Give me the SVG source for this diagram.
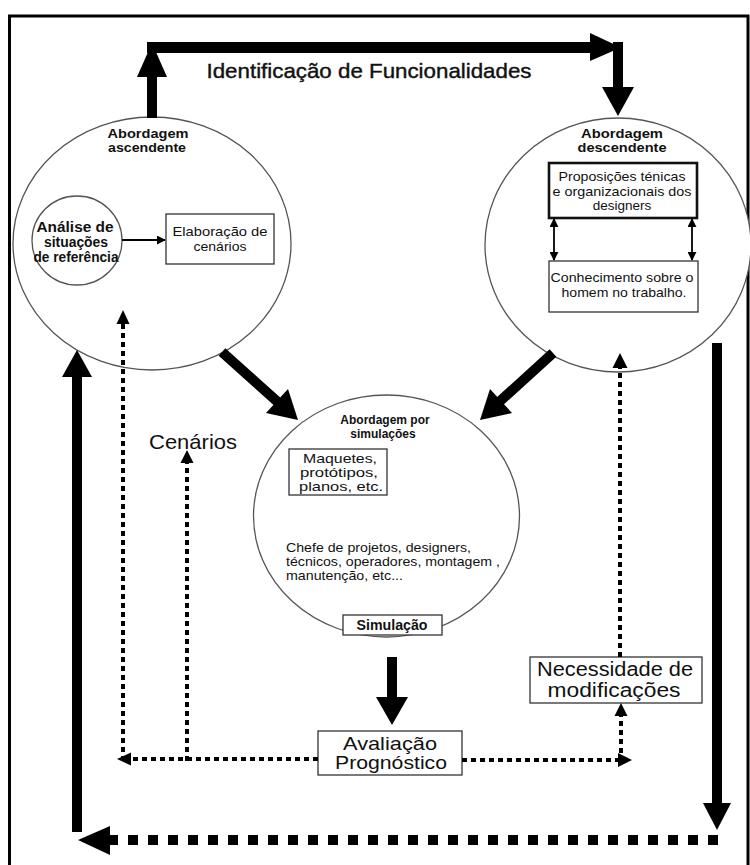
<svg xmlns="http://www.w3.org/2000/svg" width="750" height="865" viewBox="0 0 750 865">
  <style>
    .bg { fill: #ffffff; }
    .frame { fill: none; stroke: #000; stroke-width: 3; }
    .circ { fill: #fff; stroke: #555; stroke-width: 1.3; }
    .box { fill: #fff; stroke: #333; stroke-width: 1.3; }
    .boxb { fill: #fff; stroke: #111; stroke-width: 2.6; }
    .t { font-family: "Liberation Sans", Arial, sans-serif; fill: #111; text-anchor: middle; }
    .tl { font-family: "Liberation Sans", Arial, sans-serif; fill: #111; text-anchor: start; }
    .b { font-weight: bold; }
    .thick { fill: #000; }
    .dot { fill: none; stroke: #000; stroke-width: 4; stroke-dasharray: 5 4; }
    .dash { fill: none; stroke: #000; stroke-width: 10; stroke-dasharray: 10 10; }
    .thin { fill: none; stroke: #000; stroke-width: 1.8; }
  </style>
  <defs>
    <marker id="ah" viewBox="0 0 10 10" refX="9" refY="5" markerWidth="5" markerHeight="5" orient="auto-start-reverse">
      <path d="M0,0 L10,5 L0,10 Z" fill="#000"/>
    </marker>
  </defs>

  <rect class="bg" x="0" y="0" width="750" height="865"/>
  <rect class="frame" x="9.5" y="16" width="738.5" height="860"/>

  <!-- circles and boxes -->
  <g id="ascendente">
    <ellipse class="circ" cx="152" cy="243.5" rx="139" ry="126.5"/>
    <text class="t b" x="148" y="138" font-size="13" textLength="81" lengthAdjust="spacingAndGlyphs">Abordagem</text>
    <text class="t b" x="147" y="152" font-size="13" textLength="78" lengthAdjust="spacingAndGlyphs">ascendente</text>
  </g>
  <g id="analise">
    <ellipse class="circ" cx="77" cy="240.5" rx="45" ry="44.5"/>
    <text class="t b" x="75" y="232" font-size="14" textLength="77" lengthAdjust="spacingAndGlyphs">Análise de</text>
    <text class="t b" x="76" y="247" font-size="14" textLength="64" lengthAdjust="spacingAndGlyphs">situações</text>
    <text class="t b" x="76" y="262" font-size="14" textLength="85" lengthAdjust="spacingAndGlyphs">de referência</text>
  </g>
  <g id="elaboracao">
    <rect class="box" x="166" y="214" width="108" height="50"/>
    <text class="t" x="220" y="236" font-size="13" textLength="95" lengthAdjust="spacingAndGlyphs">Elaboração de</text>
    <text class="t" x="220" y="251" font-size="13" textLength="53" lengthAdjust="spacingAndGlyphs">cenários</text>
  </g>

  <g id="descendente">
    <ellipse class="circ" cx="618" cy="245" rx="133" ry="127"/>
    <text class="t b" x="622" y="138" font-size="13" textLength="82" lengthAdjust="spacingAndGlyphs">Abordagem</text>
    <text class="t b" x="622" y="152" font-size="13" textLength="89" lengthAdjust="spacingAndGlyphs">descendente</text>
  </g>
  <g id="proposicoes">
    <rect class="boxb" x="549" y="163" width="148" height="55"/>
    <text class="t" x="622" y="181" font-size="13.5" textLength="127" lengthAdjust="spacingAndGlyphs">Proposições ténicas</text>
    <text class="t" x="622" y="196" font-size="13.5" textLength="139" lengthAdjust="spacingAndGlyphs">e organizacionais dos</text>
    <text class="t" x="622" y="210" font-size="13.5">designers</text>
  </g>
  <g id="conhecimento">
    <rect class="box" x="549" y="261" width="149" height="51"/>
    <text class="t" x="622" y="282" font-size="13.5" textLength="143" lengthAdjust="spacingAndGlyphs">Conhecimento sobre o</text>
    <text class="t" x="624" y="297" font-size="13.5" textLength="125" lengthAdjust="spacingAndGlyphs">homem no trabalho.</text>
  </g>

  <g id="simulacoes">
    <ellipse class="circ" cx="386.5" cy="516" rx="133" ry="121"/>
    <text class="t b" x="385" y="424" font-size="12">Abordagem por</text>
    <text class="t b" x="383" y="438" font-size="12">simulações</text>
    <text class="tl" x="286" y="552" font-size="13.5" textLength="185" lengthAdjust="spacingAndGlyphs">Chefe de projetos, designers,</text>
    <text class="tl" x="286" y="566" font-size="13.5" textLength="214" lengthAdjust="spacingAndGlyphs">técnicos, operadores, montagem ,</text>
    <text class="tl" x="286" y="580" font-size="13.5" textLength="117" lengthAdjust="spacingAndGlyphs">manutenção, etc...</text>
  </g>
  <g id="maquetes">
    <rect class="box" x="289" y="449" width="98" height="46"/>
    <text class="t" x="340" y="463" font-size="13" textLength="74" lengthAdjust="spacingAndGlyphs">Maquetes,</text>
    <text class="t" x="339" y="477" font-size="13" textLength="78" lengthAdjust="spacingAndGlyphs">protótipos,</text>
    <text class="t" x="341" y="491" font-size="13" textLength="84" lengthAdjust="spacingAndGlyphs">planos, etc.</text>
  </g>
  <g id="simulacao">
    <rect class="box" x="343" y="615" width="99" height="20"/>
    <text class="t b" x="392" y="630" font-size="14" textLength="71" lengthAdjust="spacingAndGlyphs">Simulação</text>
  </g>

  <g id="avaliacao">
    <rect class="box" x="318" y="731" width="144" height="44"/>
    <text class="t" x="390" y="750" font-size="19" textLength="94" lengthAdjust="spacingAndGlyphs">Avaliação</text>
    <text class="t" x="391" y="769" font-size="19" textLength="112" lengthAdjust="spacingAndGlyphs">Prognóstico</text>
  </g>
  <g id="necessidade">
    <rect class="box" x="530" y="657" width="172" height="46"/>
    <text class="t" x="615" y="676" font-size="20" textLength="156" lengthAdjust="spacingAndGlyphs">Necessidade de</text>
    <text class="t" x="614" y="697" font-size="20" textLength="133" lengthAdjust="spacingAndGlyphs">modificações</text>
  </g>

  <g id="labels">
    <text class="t" x="369" y="78" font-size="21" textLength="325" lengthAdjust="spacingAndGlyphs" stroke="#111" stroke-width="0.4">Identificação de Funcionalidades</text>
    <text class="t" x="193" y="449" font-size="21" textLength="88" lengthAdjust="spacingAndGlyphs">Cenários</text>
  </g>

  <g id="connectors">
    <!-- top loop: ascendente up, across, down to descendente -->
    <rect class="thick" x="147" y="72" width="10" height="46"/>
    <polygon class="thick" points="152,43 167,77 137,77"/>
    <rect class="thick" x="147" y="42" width="446" height="11"/>
    <polygon class="thick" points="590,33 621,47.5 590,61"/>
    <rect class="thick" x="613" y="42" width="10" height="46"/>
    <polygon class="thick" points="602,87 634,87 618,116"/>

    <!-- inner thin links -->
    <line class="thin" x1="122" y1="240" x2="165" y2="240" marker-end="url(#ah)"/>
    <line class="thin" x1="554" y1="219" x2="554" y2="260" marker-start="url(#ah)" marker-end="url(#ah)"/>
    <line class="thin" x1="692" y1="219" x2="692" y2="260" marker-start="url(#ah)" marker-end="url(#ah)"/>

    <!-- diagonals into simulation circle -->
    <line x1="222" y1="352" x2="280" y2="404" stroke="#000" stroke-width="10"/>
    <polygon class="thick" points="298,420 266,413 288,389"/>
    <line x1="553" y1="353" x2="498" y2="403" stroke="#000" stroke-width="10"/>
    <polygon class="thick" points="480,420 490,389 512,413"/>

    <!-- simulation down to evaluation -->
    <rect class="thick" x="387" y="657" width="10" height="41"/>
    <polygon class="thick" points="376,697 408,697 392,725"/>

    <!-- dotted feedback lines -->
    <line class="dot" x1="318" y1="759" x2="129" y2="759"/>
    <polygon class="thick" points="117,759 131,752.5 131,765.5"/>
    <line class="dot" x1="123" y1="761" x2="123" y2="322"/>
    <polygon class="thick" points="123,310 116.5,324 129.5,324"/>
    <line class="dot" x1="187" y1="761" x2="187" y2="461"/>
    <polygon class="thick" points="187,450 180.5,463 193.5,463"/>
    <line class="dot" x1="462" y1="760" x2="620" y2="760"/>
    <polygon class="thick" points="632,760 618,753 618,767"/>
    <line class="dot" x1="621" y1="762" x2="621" y2="714"/>
    <polygon class="thick" points="621,703 614.5,716 627.5,716"/>
    <line class="dot" x1="620" y1="657" x2="620" y2="366"/>
    <polygon class="thick" points="620,353 612.5,368 627.5,368"/>

    <!-- outer loop -->
    <rect class="thick" x="712" y="343" width="10" height="462"/>
    <polygon class="thick" points="703,803 731,803 717,830"/>
    <line class="dash" x1="718" y1="840" x2="108" y2="840"/>
    <polygon class="thick" points="78,840 110,826 110,855"/>
    <rect class="thick" x="72" y="375" width="10" height="457"/>
    <polygon class="thick" points="77,350 92,377 62,377"/>
  </g>
</svg>
